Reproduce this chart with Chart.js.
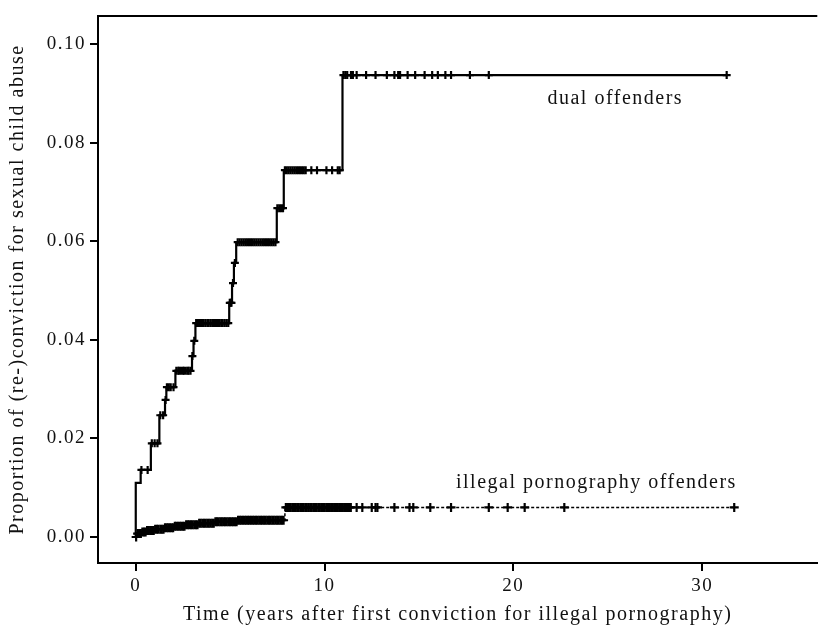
<!DOCTYPE html>
<html>
<head>
<meta charset="utf-8">
<script src="https://cdn.jsdelivr.net/npm/chart.js@4.4.0/dist/chart.umd.min.js"></script>
<style>
  html, body { margin: 0; padding: 0; background: #fff; }
</style>
</head>
<body>
<canvas id="chart" width="824" height="631"></canvas>
<script>
// dual offenders: event times (years) and cumulative proportion after each step
var dualTimes = [0, 0, 0.26, 0.8, 1.25, 1.55, 1.62, 2.1, 2.98, 3.06, 3.16, 4.95, 5.1, 5.2, 5.32, 7.47, 7.84, 10.95, 31.3];
var dualProps = [0, 0.011, 0.0136, 0.019, 0.0247, 0.0278, 0.0304, 0.0337, 0.0367, 0.0398, 0.0434, 0.0475, 0.0515, 0.0556, 0.0598, 0.0667, 0.0744, 0.0937, 0.0937];
// censored observations (years)
var dualCensored = [0.3, 0.63, 0.85, 1.0, 1.15, 1.3, 1.45, 1.58, 1.65, 1.75, 1.85, 2.0,
  2.15, 2.25, 2.3, 2.4, 2.5, 2.55, 2.65, 2.75, 2.8, 2.9, 3.0, 3.1,
  3.2, 3.3, 3.35, 3.45, 3.55, 3.6, 3.7, 3.8, 3.85, 3.95, 4.05, 4.1, 4.2, 4.3, 4.35, 4.45, 4.55, 4.6, 4.7, 4.8, 4.9,
  4.98, 5.03, 5.07, 5.15, 5.25,
  5.4, 5.5, 5.6, 5.7, 5.8, 5.9, 6.0, 6.1, 6.2, 6.3, 6.4, 6.5, 6.6, 6.7, 6.8, 6.9, 7.0, 7.1, 7.2, 7.3, 7.4,
  7.5, 7.6, 7.7, 7.8,
  7.9, 8.0, 8.1, 8.2, 8.3, 8.4, 8.5, 8.6, 8.7, 8.8, 8.9, 9.0, 9.3, 9.6, 10.1, 10.4, 10.7, 10.8,
  11.0, 11.1, 11.2, 11.4, 11.5, 11.7, 12.2, 12.7, 13.3, 13.7, 13.9, 14.0, 14.4, 14.8, 15.3, 15.7, 16.0, 16.4, 16.7, 17.7, 18.7, 31.3];

// illegal pornography offenders
var illTimes = [0, 0.05, 0.3, 0.6, 1.0, 1.5, 2.0, 2.6, 3.3, 4.2, 5.4, 7.9, 31.7];
var illProps = [0, 0.0007, 0.0010, 0.0013, 0.0016, 0.0019, 0.0022, 0.0025, 0.0028, 0.0031, 0.0034, 0.0060, 0.0060];
var illCensored = [0.02, 0.1, 0.18, 0.27, 0.35, 0.44, 0.52, 0.6, 0.69, 0.77, 0.86, 0.95, 1.03, 1.12, 1.2, 1.3, 1.38, 1.47, 1.55, 1.64,
  1.72, 1.81, 1.9, 1.98, 2.07, 2.15, 2.24, 2.33, 2.41, 2.5, 2.58, 2.67, 2.76, 2.84, 2.93, 3.01, 3.1, 3.19, 3.27, 3.36,
  3.44, 3.53, 3.62, 3.7, 3.79, 3.87, 3.96, 4.05, 4.13, 4.22, 4.3, 4.39, 4.48, 4.56, 4.65, 4.73, 4.82, 4.91, 4.99, 5.08,
  5.16, 5.25, 5.34, 5.42, 5.51, 5.59, 5.68, 5.77, 5.85, 5.94, 6.02, 6.11, 6.2, 6.28, 6.37, 6.45, 6.54, 6.63, 6.71, 6.8,
  6.88, 6.97, 7.06, 7.14, 7.23, 7.31, 7.4, 7.49, 7.57, 7.66, 7.74, 7.83, 7.95, 8.03, 8.12, 8.2, 8.29, 8.38, 8.46, 8.55,
  8.63, 8.72, 8.81, 8.89, 8.98, 9.06, 9.15, 9.24, 9.32, 9.41, 9.49, 9.58, 9.67, 9.75, 9.84, 9.92, 10.01, 10.1, 10.18, 10.27,
  10.35, 10.44, 10.53, 10.61, 10.7, 10.78, 10.87, 10.96, 11.04, 11.13, 11.21, 11.3, 11.39,
  11.7, 12.0, 12.5, 12.7, 12.8, 13.7, 14.5, 14.7, 15.6, 16.7, 18.7, 19.7, 20.6, 22.7, 31.7];

var xTicks = [0, 10, 20, 30];
var yTicks = [0, 0.02, 0.04, 0.06, 0.08, 0.10];

function stepAt(times, props, t){
  var v = props[0];
  for (var i = 0; i < times.length; i++){
    if (times[i] <= t) v = props[i];
  }
  return v;
}
function curve(times, props){
  return times.map(function(t, i){ return {x: t, y: props[i]}; });
}
function marks(cens, times, props){
  return cens.map(function(t){ return {x: t, y: stepAt(times, props, t)}; });
}

var serif = "'Liberation Serif', 'Times New Roman', serif";
Chart.defaults.font.family = serif;
Chart.defaults.color = '#111';

var frame = {
  id: 'frame',
  beforeDraw: function(chart){
    chart.ctx.letterSpacing = '1.5px';
  },
  afterDraw: function(chart){
    var c = chart.ctx, a = chart.chartArea;
    var xs = chart.scales.x, ys = chart.scales.y;
    c.save();
    c.strokeStyle = '#000';
    c.lineWidth = 2;
    c.beginPath();
    c.moveTo(a.left - 1, a.top);
    c.lineTo(a.right, a.top);
    c.stroke();
    c.fillStyle = '#111';
    c.font = '20px ' + serif;
    c.textAlign = 'center';
    c.textBaseline = 'middle';
    c.fillText('dual offenders', xs.getPixelForValue(25.4), ys.getPixelForValue(0.0889));
    c.fillText('illegal pornography offenders', xs.getPixelForValue(24.4), ys.getPixelForValue(0.011));
    c.restore();
  }
};

new Chart(document.getElementById('chart'), {
  type: 'scatter',
  data: {
    datasets: [
      {
        data: curve(dualTimes, dualProps),
        showLine: true, stepped: true,
        borderColor: '#000', borderWidth: 2.2,
        pointRadius: 0
      },
      {
        data: marks(dualCensored, dualTimes, dualProps),
        showLine: false, pointStyle: 'cross', pointRadius: 4,
        borderColor: '#000', borderWidth: 2.2
      },
      {
        data: curve(illTimes, illProps),
        showLine: true, stepped: true,
        borderColor: '#000', borderWidth: 1.5, borderDash: [3, 2],
        pointRadius: 0
      },
      {
        data: marks(illCensored, illTimes, illProps),
        showLine: false, pointStyle: 'cross', pointRadius: 4.5,
        borderColor: '#000', borderWidth: 2.2
      }
    ]
  },
  options: {
    responsive: false,
    animation: false,
    layout: { padding: { top: 16, right: 0, left: 0, bottom: 0 } },
    plugins: { legend: { display: false }, tooltip: { enabled: false } },
    scales: {
      x: {
        type: 'linear', min: -2, max: 36.1,
        afterBuildTicks: function(s){ s.ticks = xTicks.map(function(v){ return {value: v}; }); },
        afterFit: function(s){ s.height = 68; },
        grid: { drawOnChartArea: false, drawTicks: true, tickLength: 8, color: '#000', lineWidth: 2 },
        border: { display: true, color: '#000', width: 2 },
        ticks: { font: { size: 19 }, padding: 4, color: '#111', maxRotation: 0 },
        title: { display: true, text: 'Time (years after first conviction for illegal pornography)', font: { size: 20 }, padding: { top: 4 } }
      },
      y: {
        type: 'linear', min: -0.00527, max: 0.10568,
        afterBuildTicks: function(s){ s.ticks = yTicks.map(function(v){ return {value: v}; }); },
        afterFit: function(s){ s.width = 98; },
        grid: { drawOnChartArea: false, drawTicks: true, tickLength: 8, color: '#000', lineWidth: 2 },
        border: { display: true, color: '#000', width: 2 },
        ticks: { font: { size: 19 }, padding: 4, color: '#111', callback: function(v){ return v.toFixed(2); } },
        title: { display: true, text: 'Proportion of (re-)conviction for sexual child abuse', font: { size: 20 }, padding: { top: 6, bottom: 2 } }
      }
    }
  },
  plugins: [frame]
});
</script>
</body>
</html>
